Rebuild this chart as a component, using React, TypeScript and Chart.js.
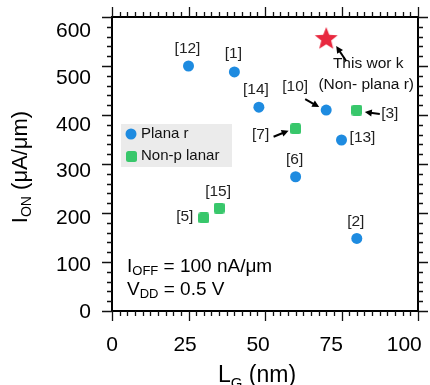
import { useEffect, useRef } from 'react';
import { Chart, registerables } from 'chart.js';

Chart.register(...registerables);

// ---- data ----
const planarLg = [25, 40, 48, 70, 75, 60, 80];
const planarIon = [500, 488, 416, 410, 349, 274, 148];
const planarRefs = ['[12]', '[1]', '[14]', '[10]', '[13]', '[6]', '[2]'];

const nonPlanarLg = [80, 60, 30, 35];
const nonPlanarIon = [410, 372, 190, 210];
const nonPlanarRefs = ['[3]', '[7]', '[5]', '[15]'];

const thisWorkLg = [70];
const thisWorkIon = [555];
const thisWorkText = ['This wor k', '(Non- plana r)'];

const xTicks = [0, 25, 50, 75, 100];
const yTicks = [0, 100, 200, 300, 400, 500, 600];
const xMinorStep = 2.5;
const yMinorStep = 20;

const legendLabels = ['Plana r', 'Non-p lanar'];

// ---- styles (label offsets in px relative to the point) ----
const planarLabelOff: [number, number][] = [[-1, -17], [-1, -18], [-3, -17], [-31, -23], [21, -2], [-1, -17], [-1, -17]];
const planarArrow: (number[] | null)[] = [null, null, null, [-21, -11, -7, -3], null, null, null];
const nonPlanarLabelOff: [number, number][] = [[33, 4], [-35, 6], [-19, -1], [-1, -16]];
const nonPlanarArrow: (number[] | null)[] = [[23, 4, 8, 2], [-22, 8, -7, 2], null, null];
const thisWorkOff: [number, number][] = [[42, 25], [40, 46]];
const thisWorkArrow = [20, 22, 10, 7];

const BLUE = '#1E8BE0';
const GREEN = '#38C76B';
const RED = '#E8283F';
const FONT = '"Liberation Sans", Arial, sans-serif';

function makeStar(): HTMLCanvasElement {
  const c = document.createElement('canvas');
  c.width = 26;
  c.height = 26;
  const g = c.getContext('2d')!;
  g.fillStyle = RED;
  g.beginPath();
  const n = 5, R = 12, r = 5.2;
  for (let i = 0; i < 2 * n; i++) {
    const ang = -Math.PI / 2 + (i * Math.PI) / n;
    const rad = i % 2 === 0 ? R : r;
    const px = 13 + rad * Math.cos(ang);
    const py = 13 + rad * Math.sin(ang);
    if (i === 0) g.moveTo(px, py);
    else g.lineTo(px, py);
  }
  g.closePath();
  g.fill();
  return c;
}

function makeSquare(): HTMLCanvasElement {
  const c = document.createElement('canvas');
  c.width = 11;
  c.height = 11;
  const g = c.getContext('2d')!;
  g.fillStyle = GREEN;
  g.beginPath();
  (g as any).roundRect(0, 0, 11, 11, 2.5);
  g.fill();
  return c;
}

function drawRuns(ctx: CanvasRenderingContext2D, runs: { t: string; size: number; dy: number }[], x: number, y: number) {
  let cx = x;
  for (const r of runs) {
    ctx.font = `${r.size}px ${FONT}`;
    ctx.fillText(r.t, cx, y + r.dy);
    cx += ctx.measureText(r.t).width;
  }
  return cx - x;
}

function runsWidth(ctx: CanvasRenderingContext2D, runs: { t: string; size: number; dy: number }[]) {
  let w = 0;
  for (const r of runs) {
    ctx.font = `${r.size}px ${FONT}`;
    w += ctx.measureText(r.t).width;
  }
  return w;
}

function arrow(ctx: CanvasRenderingContext2D, x1: number, y1: number, x2: number, y2: number) {
  const ang = Math.atan2(y2 - y1, x2 - x1);
  const hl = 7, hw = 3.5;
  ctx.strokeStyle = '#000';
  ctx.fillStyle = '#000';
  ctx.lineWidth = 2;
  ctx.beginPath();
  ctx.moveTo(x1, y1);
  ctx.lineTo(x2 - hl * 0.8 * Math.cos(ang), y2 - hl * 0.8 * Math.sin(ang));
  ctx.stroke();
  ctx.beginPath();
  ctx.moveTo(x2, y2);
  ctx.lineTo(x2 - hl * Math.cos(ang) + hw * Math.sin(ang), y2 - hl * Math.sin(ang) - hw * Math.cos(ang));
  ctx.lineTo(x2 - hl * Math.cos(ang) - hw * Math.sin(ang), y2 - hl * Math.sin(ang) + hw * Math.cos(ang));
  ctx.closePath();
  ctx.fill();
}

export default function App() {
  const ref = useRef<HTMLCanvasElement>(null);

  useEffect(() => {
    const star = makeStar();
    const sq = makeSquare();

    const decor = {
      id: 'decor',
      afterDraw(chart: any) {
        const ctx: CanvasRenderingContext2D = chart.ctx;
        const a = chart.chartArea;
        const xs = chart.scales.x;
        const ys = chart.scales.y;
        ctx.save();

        // legend box
        ctx.fillStyle = '#EBEBEB';
        ctx.fillRect(121, 124, 111, 43);
        ctx.fillStyle = BLUE;
        ctx.beginPath();
        ctx.arc(131, 134, 5.5, 0, Math.PI * 2);
        ctx.fill();
        ctx.drawImage(sq, 126, 151);
        ctx.fillStyle = '#111';
        ctx.font = `15px ${FONT}`;
        ctx.textAlign = 'left';
        ctx.textBaseline = 'middle';
        ctx.fillText(legendLabels[0], 141, 134);
        ctx.fillText(legendLabels[1], 141, 156);

        // frame
        ctx.strokeStyle = '#000';
        ctx.lineWidth = 2;
        ctx.strokeRect(a.left, a.top, a.right - a.left, a.bottom - a.top);

        // ticks
        ctx.lineWidth = 1.3;
        ctx.strokeStyle = '#111';
        const MAJ = 10, MIN = 5;
        const xMax = xTicks[xTicks.length - 1];
        const yMax = yTicks[yTicks.length - 1];
        ctx.beginPath();
        for (let v = xTicks[0]; v <= xMax + 1e-6; v += xMinorStep) {
          const major = xTicks.some((t) => Math.abs(t - v) < 1e-6);
          const len = major ? MAJ : MIN;
          const px = Math.round(xs.getPixelForValue(v)) + 0.5;
          ctx.moveTo(px, a.bottom);
          ctx.lineTo(px, a.bottom + len);
          ctx.moveTo(px, a.top);
          ctx.lineTo(px, a.top - len);
        }
        for (let v = yTicks[0]; v <= yMax + 1e-6; v += yMinorStep) {
          const major = yTicks.some((t) => Math.abs(t - v) < 1e-6);
          const len = major ? MAJ : MIN;
          const py = Math.round(ys.getPixelForValue(v)) + 0.5;
          ctx.moveTo(a.left, py);
          ctx.lineTo(a.left - len, py);
          ctx.moveTo(a.right, py);
          ctx.lineTo(a.right + len, py);
        }
        ctx.stroke();

        // tick labels
        const K = 0.955;
        ctx.fillStyle = '#000';
        ctx.font = `21px ${FONT}`;
        ctx.textBaseline = 'middle';
        ctx.textAlign = 'right';
        const y0 = ys.getPixelForValue(yTicks[0]);
        for (const t of yTicks) {
          const py = y0 + (ys.getPixelForValue(t) - y0) * K;
          ctx.fillText(String(t), 91, py + 1);
        }
        ctx.textAlign = 'center';
        const x0 = xs.getPixelForValue(xTicks[0]);
        for (const t of xTicks) {
          const px = x0 + (xs.getPixelForValue(t) - x0) * K;
          ctx.fillText(String(t), px, 345);
        }

        // axis titles
        ctx.textAlign = 'left';
        ctx.textBaseline = 'alphabetic';
        drawRuns(ctx, [
          { t: 'L', size: 23, dy: 0 },
          { t: 'G', size: 15, dy: 6 },
          { t: ' (nm)', size: 23, dy: 0 },
        ], 218, 382);

        const yRuns = [
          { t: 'I', size: 22, dy: 0 },
          { t: 'ON', size: 14, dy: 4 },
          { t: ' (μA/μm)', size: 22, dy: 0 },
        ];
        ctx.save();
        ctx.translate(27, 167);
        ctx.rotate(-Math.PI / 2);
        const yw = runsWidth(ctx, yRuns);
        drawRuns(ctx, yRuns, -yw / 2, 0);
        ctx.restore();

        // condition text
        drawRuns(ctx, [
          { t: 'I', size: 19, dy: 0 },
          { t: 'OFF', size: 13, dy: 3 },
          { t: ' = 100 nA/μm', size: 19, dy: 0 },
        ], 127, 272);
        drawRuns(ctx, [
          { t: 'V', size: 19, dy: 0 },
          { t: 'DD', size: 13, dy: 3 },
          { t: ' = 0.5 V', size: 19, dy: 0 },
        ], 127, 295);

        // reference labels
        ctx.textAlign = 'center';
        ctx.textBaseline = 'middle';
        const labelSet = (lg: number[], ion: number[], refs: string[], off: [number, number][], arr: (number[] | null)[]) => {
          refs.forEach((r, i) => {
            const px = xs.getPixelForValue(lg[i]);
            const py = ys.getPixelForValue(ion[i]);
            ctx.fillStyle = '#222';
            ctx.font = `15.5px ${FONT}`;
            ctx.fillText(r, px + off[i][0], py + off[i][1]);
            const ar = arr[i];
            if (ar) arrow(ctx, px + ar[0], py + ar[1], px + ar[2], py + ar[3]);
          });
        };
        labelSet(planarLg, planarIon, planarRefs, planarLabelOff, planarArrow);
        labelSet(nonPlanarLg, nonPlanarIon, nonPlanarRefs, nonPlanarLabelOff, nonPlanarArrow);

        const sx = xs.getPixelForValue(thisWorkLg[0]);
        const sy = ys.getPixelForValue(thisWorkIon[0]);
        ctx.fillStyle = '#111';
        ctx.font = `15.5px ${FONT}`;
        thisWorkText.forEach((t, i) => ctx.fillText(t, sx + thisWorkOff[i][0], sy + thisWorkOff[i][1]));
        arrow(ctx, sx + thisWorkArrow[0], sy + thisWorkArrow[1], sx + thisWorkArrow[2], sy + thisWorkArrow[3]);

        ctx.restore();
      },
    };

    const chart = new Chart(ref.current!, {
      type: 'scatter',
      data: {
        datasets: [
          {
            label: 'Planar',
            data: planarLg.map((x, i) => ({ x, y: planarIon[i] })),
            pointStyle: 'circle',
            pointRadius: 5.5,
            backgroundColor: BLUE,
            borderWidth: 0,
          },
          {
            label: 'Non-planar',
            data: nonPlanarLg.map((x, i) => ({ x, y: nonPlanarIon[i] })),
            pointStyle: sq,
            pointRadius: 6,
            backgroundColor: GREEN,
            borderWidth: 0,
          },
          {
            label: 'This work',
            data: thisWorkLg.map((x, i) => ({ x, y: thisWorkIon[i] })),
            pointStyle: star,
            pointRadius: 12,
            backgroundColor: RED,
            borderWidth: 0,
          },
        ],
      },
      options: {
        responsive: false,
        animation: false,
        events: [],
        clip: false as any,
        layout: { padding: { left: 112, right: 9, top: 17, bottom: 74 } },
        plugins: { legend: { display: false }, tooltip: { enabled: false } },
        scales: {
          x: { type: 'linear', display: false, min: xTicks[0], max: xTicks[xTicks.length - 1] },
          y: { type: 'linear', display: false, min: yTicks[0], max: yTicks[yTicks.length - 1] },
        },
      },
      plugins: [decor],
    });
    return () => chart.destroy();
  }, []);

  return (
    <div style={{ position: 'absolute', left: 0, top: 0, width: 430, height: 385, background: '#fff' }}>
      <canvas ref={ref} width={430} height={385} style={{ display: 'block' }} />
    </div>
  );
}
